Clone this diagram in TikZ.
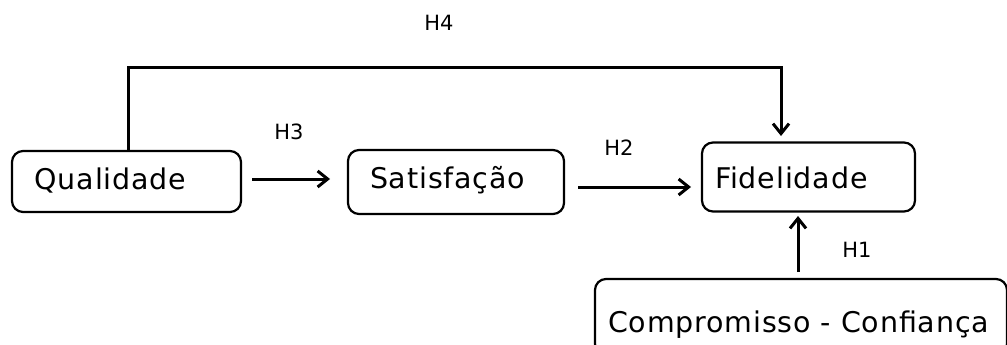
\documentclass[tikz,border=0pt]{standalone}
\usepackage{fontspec}
\setmainfont{DejaVu Sans}[LetterSpace=3]
\newfontfamily\hypfont{DejaVu Sans}
\usetikzlibrary{arrows.meta}
% left-aligned label of fixed width, so the box padding stays the same
\newcommand{\boxlabel}[2]{\makebox[#1][l]{#2}}
\begin{document}
\begin{tikzpicture}[x=1pt,y=-1pt,
  concept/.style={draw, line width=2.2pt, rounded corners=11pt, inner sep=0pt, text depth=0pt, font=\fontsize{28.5}{31}\selectfont},
  link/.style={line width=3pt, -{Straight Barb[length=10pt,width=16pt]}},
  hyp/.style={font=\hypfont\fontsize{21}{24}\selectfont}]
\useasboundingbox (0,0) rectangle (1007,345);
% constructs
\node[concept, minimum width=229pt, minimum height=61pt, text height=16pt] (qual) at (126.5,181.5) {\boxlabel{184pt}{Qualidade}};
\node[concept, minimum width=216pt, minimum height=64pt, text height=12pt] (sat) at (456,182) {\boxlabel{172pt}{Satisfação}};
\node[concept, minimum width=213pt, minimum height=69pt, text height=23pt] (fid) at (808.5,177) {\boxlabel{187pt}{Fidelidade}};
\node[concept, minimum width=412pt, minimum height=76pt, text height=30pt] (comp) at (801,317) {\boxlabel{386pt}{Compromisso - Confiança}};
% hypotheses
\coordinate (h3s) at (252,179);
\coordinate (h3e) at (330,179);
\coordinate (h2s) at (578,187);
\coordinate (h2e) at (691,187);
\coordinate (h1s) at (798,272);
\coordinate (h1e) at (798,216);
\coordinate (h4a) at (128,68);
\coordinate (h4b) at (781,68);
\coordinate (h4e) at (781,136);
\draw[link] (h3s) -- (h3e);
\draw[link] (h2s) -- (h2e);
\draw[link] (h1s) -- (h1e);
\draw[link] (qual.north -| h4a) -- (h4a) -- (h4b) -- (h4e);
\node[hyp] (l4) at (439,23) {H4};
\node[hyp] (l3) at (289,132) {H3};
\node[hyp] (l2) at (619,148) {H2};
\node[hyp] (l1) at (857,250) {H1};
\end{tikzpicture}
\end{document}
